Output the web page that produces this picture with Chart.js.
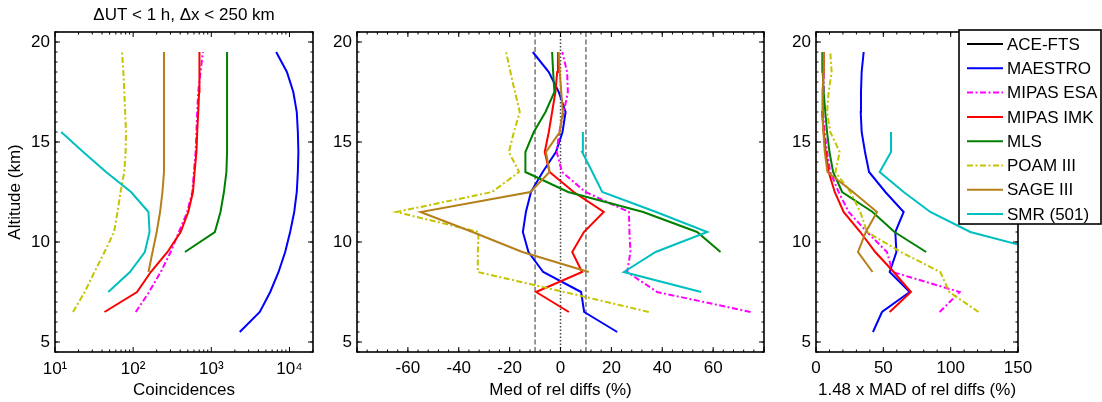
<!DOCTYPE html>
<html><head><meta charset="utf-8">
<script src="https://cdn.jsdelivr.net/npm/chart.js@4.4.1/dist/chart.umd.min.js"></script>
<style>
html,body{margin:0;padding:0;background:#fff;}
#wrap{position:relative;width:1102px;height:402px;overflow:hidden;background:#fff;}
canvas{position:absolute;top:0;}
</style></head><body>
<div id="wrap">
<canvas id="c1" width="330" height="402" style="left:0px"></canvas>
<canvas id="c2" width="470" height="402" style="left:320px"></canvas>
<canvas id="c3" width="312" height="402" style="left:790px"></canvas>
</div>
<script>
// ---------- DATA ----------
const altitudes = [5.5,6.5,7.5,8.5,9.5,10.5,11.5,12.5,13.5,14.5,15.5,16.5,17.5,18.5,19.5];
const seriesNames = ['ACE-FTS','MAESTRO','MIPAS ESA','MIPAS IMK','MLS','POAM III','SAGE III','SMR (501)'];
const seriesColors = ['#000000','#0000ff','#ff00ff','#ff0000','#008000','#c4c400','#b5801a','#00bfbf'];
const seriesDashed = [false,false,true,false,false,true,false,false];

// Panel 1: number of coincidences (log scale)
const coinACE   = [null,null,null,null,null,null,null,null,null,null,null,null,null,null,null];
const coinMAESTRO = [2310,4170,5670,7250,8810,10200,11500,12400,12800,13000,12800,12400,11200,9270,6760];
const coinMIPASESA = [null,108,160,225,302,385,492,571,599,630,645,660,680,728,780];
const coinMIPASIMK = [null,43,112,168,275,405,507,582,611,645,660,680,698,705,705];
const coinMLS   = [null,null,null,null,460,1110,1310,1450,1560,1590,1590,1590,1590,1590,1590];
const coinPOAM  = [null,17,24,32,43,57,63,69,77,80,81,79,77,75,72];
const coinSAGE  = [null,null,null,157,177,200,221,237,248,248,248,248,248,248,248];
const coinSMR   = [null,null,48,91,141,162,157,94,45,23,12,null,null,null,null];

// Panel 2: median of relative differences (%)
const medACE   = [null,null,null,null,null,null,null,null,null,null,null,null,null,null,null];
const medMAESTRO = [22.3,9.3,8.1,-6.8,-12.6,-14.8,-13.6,-11.6,-7.0,-1.8,0.8,2.0,-0.7,-4.6,-10.9];
const medMIPASESA = [null,74.7,38.0,26.2,27.5,27.1,26.9,9.8,0.6,-1.5,-0.5,1.3,2.9,2.6,0.7];
const medMIPASIMK = [null,3.3,-9.6,8.5,4.6,9.2,17.0,5.2,-4.3,-6.2,-4.6,-3.3,-2.0,-1.3,-1.0];
const medMLS   = [null,null,null,null,62.9,53.7,32.5,3.0,-13.8,-13.8,-10.5,-5.9,-2.4,-2.9,-3.3];
const medPOAM  = [null,34.7,1.5,-32.5,-32.5,-32.2,-64.5,-26.9,-16.3,-20.3,-18.3,-16.0,-17.9,-19.7,-21.4];
const medSAGE  = [null,null,null,11.1,-15.0,-34.6,-55.0,-11.8,-4.3,-5.7,-0.3,0.9,0.3,-0.3,-0.7];
const medSMR   = [null,null,55.3,24.9,37.4,57.7,37.6,16.4,12.5,8.5,8.8,null,null,null,null];
const medRefDashed = [-10, 10];
const medRefDotted = [0];

// Panel 3: 1.48 x MAD of relative differences (%)
const madACE   = [null,null,null,null,null,null,null,null,null,null,null,null,null,null,null];
const madMAESTRO = [42.3,49.0,69.6,54.7,59.7,58.9,65.1,51.5,39.4,36.4,33.9,33.2,33.4,33.9,35.4];
const madMIPASESA = [null,91.8,106.7,56.9,52.7,37.9,24.3,16.8,10.6,8.2,6.4,5.2,5.7,5.7,5.7];
const madMIPASIMK = [null,54.7,70.5,57.7,44.0,32.9,20.5,13.9,9.4,7.2,5.7,4.5,5.0,5.5,5.7];
const madMLS   = [null,null,null,null,81.8,58.3,42.0,19.4,12.7,10.0,8.2,6.9,5.7,5.0,4.7];
const madPOAM  = [null,120.7,99.0,92.3,63.0,37.9,32.9,25.5,14.4,17.6,10.6,8.2,9.4,11.6,10.6];
const madSAGE  = [null,null,null,42.0,31.2,37.0,45.3,27.5,8.5,6.5,5.5,4.7,5.0,5.5,5.7];
const madSMR   = [null,null,null,null,171,114.6,84.9,65.1,47.3,55.7,55.7,null,null,null,null];

// Axis ticks
const altTicks = [5,10,15,20];
const coinTicks = [10,100,1000,10000];
const coinTickLabels = ['10\u00B9','10\u00B2','10\u00B3','10\u2074'];
const medTicks = [-60,-40,-20,0,20,40,60];
const madTicks = [0,50,100,150];

// ---------- RENDERING ----------
const FONT = {family:'"Liberation Sans", Arial, Helvetica, sans-serif', size:17};
Chart.defaults.color = '#000';
Chart.defaults.font.family = FONT.family;
Chart.defaults.font.size = FONT.size;

const DASHDOT = [6,2.5,2,2.5];

function makeSets(arrs){
  return arrs.map((vals,i)=>({
    label: seriesNames[i],
    data: altitudes.map((a,k)=> vals[k]==null ? null : {x: vals[k], y: a}).filter(Boolean),
    borderColor: seriesColors[i],
    backgroundColor: seriesColors[i],
    borderWidth: 2,
    borderDash: seriesDashed[i] ? DASHDOT : [],
    pointRadius: 0,
    tension: 0,
    fill: false,
    order: arrs.length - i
  }));
}

function range(a,b,step){const r=[];for(let v=a;v<=b+1e-9;v+=step)r.push(+v.toFixed(6));return r;}
const altMinor = range(4.5,20.5,0.5);

const boxTicks = {
  id:'boxTicks',
  afterDatasetsDraw(chart, args, o){
    const {ctx, chartArea:a, scales} = chart;
    const xs = scales.x, ys = scales.y;
    ctx.save();
    ctx.strokeStyle = '#000';
    ctx.lineWidth = 1;
    const seg=(x1,y1,x2,y2)=>{ctx.beginPath();ctx.moveTo(x1,y1);ctx.lineTo(x2,y2);ctx.stroke();};
    const xt=(vals,len)=>vals.forEach(v=>{const p=xs.getPixelForValue(v); if(p<a.left-0.5||p>a.right+0.5)return; seg(p,a.bottom,p,a.bottom-len); seg(p,a.top,p,a.top+len);});
    const yt=(vals,len)=>vals.forEach(v=>{const p=ys.getPixelForValue(v); if(p<a.top-0.5||p>a.bottom+0.5)return; seg(a.left,p,a.left+len,p); seg(a.right,p,a.right-len,p);});
    xt(o.xMinor||[],2.5); xt(o.xMajor||[],5);
    yt(altMinor,2.5); yt(altTicks,5);
    ctx.lineWidth = 1.6;
    ctx.strokeRect(a.left, a.top, a.right-a.left, a.bottom-a.top);
    ctx.restore();
  }
};

const legendBox = {
  id:'legendBox',
  afterDraw(chart){
    const ctx = chart.ctx;
    const L=169, T=30, W=142, H=194, rowH=24.3;
    ctx.save();
    ctx.fillStyle='#fff';
    ctx.fillRect(L,T,W,H);
    ctx.strokeStyle='#000'; ctx.lineWidth=1.6;
    ctx.strokeRect(L,T,W,H);
    ctx.font = FONT.size+'px '+FONT.family;
    ctx.textBaseline='middle'; ctx.textAlign='left';
    chart.data.datasets.forEach((ds,i)=>{
      const y = T+14+i*rowH;
      ctx.strokeStyle = ds.borderColor; ctx.lineWidth=2;
      ctx.setLineDash(ds.borderDash||[]);
      ctx.beginPath(); ctx.moveTo(L+8,y); ctx.lineTo(L+44,y); ctx.stroke();
      ctx.setLineDash([]);
      ctx.fillStyle='#000';
      ctx.fillText(ds.label, L+48, y+1);
    });
    ctx.restore();
  }
};

function yAxis(width, showTitle){
  return {
    type:'linear', min:4.5, max:20.5,
    grid:{display:false, drawTicks:false}, border:{display:false},
    afterBuildTicks: s=>{ s.ticks = altTicks.map(v=>({value:v})); },
    ticks:{padding:5, color:'#000', font:FONT, autoSkip:false},
    title:{display:showTitle, text:'Altitude (km)', color:'#000', font:FONT, padding:{top:5,bottom:0}},
    afterFit: s=>{ s.width = width; }
  };
}
function xAxisBase(){
  return {
    grid:{display:false, drawTicks:false}, border:{display:false},
    afterFit: s=>{ s.height = 50; }
  };
}

// Panel 1
new Chart(document.getElementById('c1'), {
  type:'line',
  data:{datasets: makeSets([coinACE,coinMAESTRO,coinMIPASESA,coinMIPASIMK,coinMLS,coinPOAM,coinSAGE,coinSMR])},
  options:{
    responsive:false, animation:false, devicePixelRatio:1,
    layout:{padding:{top:0,left:0,right:17,bottom:0}},
    plugins:{
      legend:{display:false}, tooltip:{enabled:false},
      title:{display:true, fullSize:false, text:'\u0394UT < 1 h, \u0394x < 250 km', color:'#000', font:{...FONT, weight:'normal'}, padding:{top:5,bottom:6.6}},
      boxTicks:{xMajor:coinTicks, xMinor:[10,100,1000,10000].flatMap(d=>[2,3,4,5,6,7,8,9].map(k=>d*k)).filter(v=>v<=20000)}
    },
    scales:{
      x:{...xAxisBase(), type:'logarithmic', min:10, max:20000,
        afterBuildTicks: s=>{ s.ticks = coinTicks.map(v=>({value:v})); },
        ticks:{padding:7, color:'#000', font:FONT, autoSkip:false, maxRotation:0,
          callback:(v)=>{const i=coinTicks.indexOf(v); return i>=0?coinTickLabels[i]:'';}},
        title:{display:true, text:'Coincidences', color:'#000', font:FONT, padding:{top:0,bottom:1}}
      },
      y: yAxis(55, true)
    }
  },
  plugins:[boxTicks]
});

// Panel 2
const medSets = makeSets([medACE,medMAESTRO,medMIPASESA,medMIPASIMK,medMLS,medPOAM,medSAGE,medSMR]);
medRefDashed.forEach(v=>medSets.push({label:'ref', data:[{x:v,y:4.5},{x:v,y:20.5}], borderColor:'#7f7f7f', borderWidth:1.6, borderDash:[5,2.5], pointRadius:0, order:20}));
medRefDotted.forEach(v=>medSets.push({label:'ref', data:[{x:v,y:4.5},{x:v,y:20.5}], borderColor:'#444444', borderWidth:1.5, borderDash:[1.5,2], pointRadius:0, order:20}));
new Chart(document.getElementById('c2'), {
  type:'line',
  data:{datasets: medSets},
  options:{
    responsive:false, animation:false, devicePixelRatio:1,
    layout:{padding:{top:32,left:0,right:26,bottom:0}},
    plugins:{legend:{display:false}, tooltip:{enabled:false},
      boxTicks:{xMajor:range(-80,80,20), xMinor:range(-80,80,4)}},
    scales:{
      x:{...xAxisBase(), type:'linear', min:-80, max:80,
        afterBuildTicks: s=>{ s.ticks = medTicks.map(v=>({value:v})); },
        ticks:{padding:6, color:'#000', font:FONT, autoSkip:false, maxRotation:0},
        title:{display:true, text:'Med of rel diffs (%)', color:'#000', font:FONT, padding:{top:0,bottom:1}}
      },
      y: yAxis(37, false)
    }
  },
  plugins:[boxTicks]
});

// Panel 3
new Chart(document.getElementById('c3'), {
  type:'line',
  data:{datasets: makeSets([madACE,madMAESTRO,madMIPASESA,madMIPASIMK,madMLS,madPOAM,madSAGE,madSMR])},
  options:{
    responsive:false, animation:false, devicePixelRatio:1,
    layout:{padding:{top:32,left:0,right:84,bottom:0}},
    plugins:{legend:{display:false}, tooltip:{enabled:false},
      boxTicks:{xMajor:madTicks, xMinor:range(0,150,10)}},
    scales:{
      x:{...xAxisBase(), type:'linear', min:0, max:150,
        afterBuildTicks: s=>{ s.ticks = madTicks.map(v=>({value:v})); },
        ticks:{padding:6, color:'#000', font:FONT, autoSkip:false, maxRotation:0},
        title:{display:true, text:'1.48 x MAD of rel diffs (%)', color:'#000', font:FONT, padding:{top:0,bottom:1}}
      },
      y: yAxis(26, false)
    }
  },
  plugins:[boxTicks, legendBox]
});
</script>
</body></html>
